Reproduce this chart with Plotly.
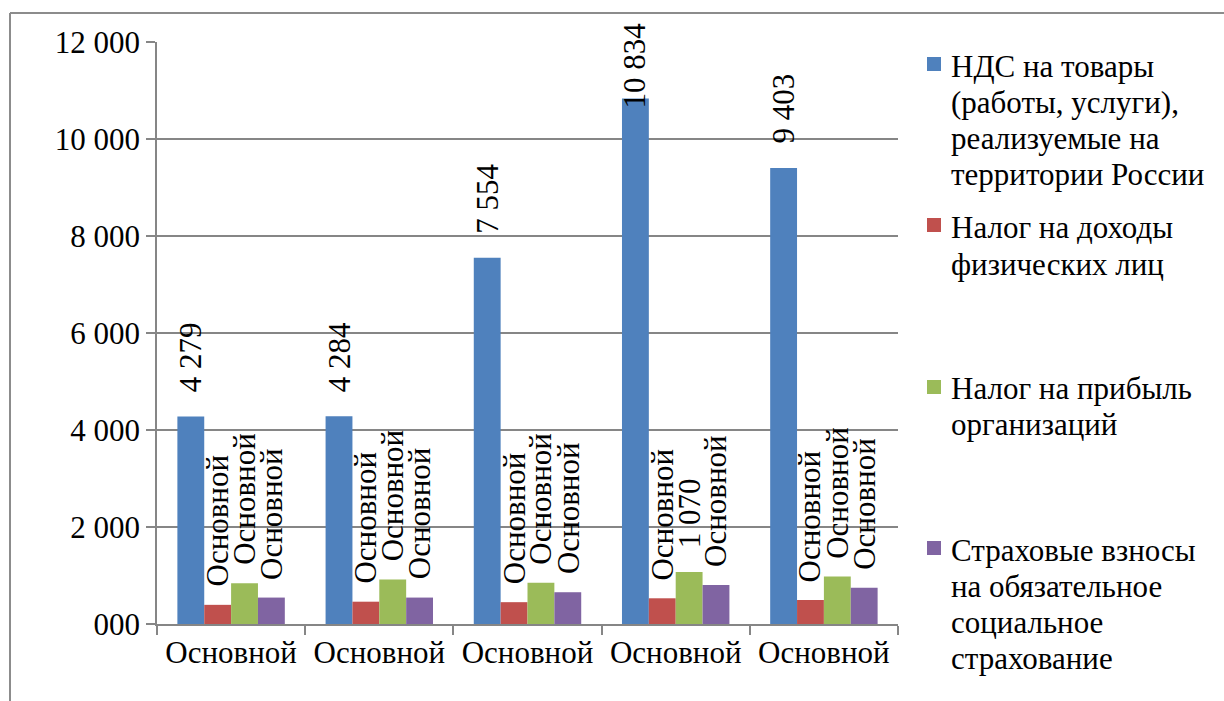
import plotly.graph_objects as go

# Tax revenue breakdown, five periods, four tax types
categories = ["Основной", "Основной", "Основной", "Основной", "Основной"]
series_names = [
    "НДС на товары (работы, услуги), реализуемые на территории России",
    "Налог на доходы физических лиц",
    "Налог на прибыль организаций",
    "Страховые взносы на обязательное социальное страхование",
]
nds = [4279, 4284, 7554, 10834, 9403]
ndfl = [395, 460, 450, 530, 495]
pribyl = [840, 915, 850, 1070, 980]
strakh = [545, 545, 655, 805, 750]

# What each data label shows: the value or the category name
nds_label_kind = ["value", "value", "value", "value", "value"]
ndfl_label_kind = ["name", "name", "name", "name", "name"]
pribyl_label_kind = ["name", "name", "name", "value", "name"]
strakh_label_kind = ["name", "name", "name", "name", "name"]

y_tick_values = [0, 2000, 4000, 6000, 8000, 10000, 12000]
y_tick_labels = ["000", "2 000", "4 000", "6 000", "8 000", "10 000", "12 000"]

# Legend text, split into lines as wrapped in the side legend
legend_lines = [
    ["НДС на товары", "(работы, услуги),", "реализуемые на", "территории России"],
    ["Налог на доходы", "физических лиц"],
    ["Налог на прибыль", "организаций"],
    ["Страховые взносы", "на обязательное", "социальное", "страхование"],
]

colors = ["#4F81BD", "#C0504D", "#9BBB59", "#8064A2"]
FONT = "'Liberation Serif', 'DejaVu Serif', serif"
FS = 31

W, H = 1224, 701
L, R, T, B = 157, 898, 42, 624  # plot area edges in pixels
Y_MAX = 12000
BARGAP = 0.275


def fmt(v):
    return f"{v:,}".replace(",", " ")


def px_x(x):
    return (x - L) / (R - L)


def px_y(y):
    return (B - y) / (B - T)


def text_len(s):
    # rough rendered length of a numeric label in pixels
    return sum(0.25 if c == " " else 0.5 for c in s) * FS


all_values = [nds, ndfl, pribyl, strakh]
all_kinds = [nds_label_kind, ndfl_label_kind, pribyl_label_kind, strakh_label_kind]
xs = list(range(len(categories)))

fig = go.Figure()
for name, vals, col in zip(series_names, all_values, colors):
    fig.add_trace(go.Bar(
        x=xs, y=vals, name=name,
        marker=dict(color=col, line=dict(width=0)),
        showlegend=False,
    ))

# Data labels, rotated, above each bar (pushed down if they would leave the chart)
n_series = len(all_values)
bar_w = (1 - BARGAP) / n_series
annotations = []
for k, (vals, kinds) in enumerate(zip(all_values, all_kinds)):
    for i, (v, kind) in enumerate(zip(vals, kinds)):
        text = fmt(v) if kind == "value" else categories[i]
        gap = 22 if kind == "value" else 16
        ann = dict(
            x=i + (k - (n_series - 1) / 2) * bar_w, y=v,
            xref="x", yref="y",
            text=text, showarrow=False, textangle=-90,
            xanchor="center", yanchor="bottom", yshift=gap,
            font=dict(family=FONT, size=FS, color="black"),
        )
        top_px = B - v / Y_MAX * (B - T)
        if kind == "value" and top_px - gap - text_len(text) < 20:
            ann.update(y=px_y(20), yref="paper", yanchor="top", yshift=0)
        annotations.append(ann)

# Side legend
legend_square_y = [64, 225, 387, 548]
legend_first_line_y = [67, 228, 388, 550]
LINE_STEP = 36
shapes = []
for k, lines in enumerate(legend_lines):
    cy = legend_square_y[k]
    shapes.append(dict(
        type="rect", xref="paper", yref="paper",
        x0=px_x(927), x1=px_x(941), y0=px_y(cy + 7), y1=px_y(cy - 7),
        fillcolor=colors[k], line=dict(width=0),
    ))
    for j, line in enumerate(lines):
        annotations.append(dict(
            x=px_x(949), y=px_y(legend_first_line_y[k] + j * LINE_STEP),
            xref="paper", yref="paper", text=line, showarrow=False,
            xanchor="left", yanchor="middle",
            font=dict(family=FONT, size=FS, color="black"),
        ))

# Chart frame
shapes.append(dict(
    type="line", xref="paper", yref="paper",
    x0=px_x(10), x1=px_x(W + 20), y0=px_y(13), y1=px_y(13),
    line=dict(color="#8c8c8c", width=2),
))
shapes.append(dict(
    type="line", xref="paper", yref="paper",
    x0=px_x(10), x1=px_x(10), y0=px_y(13), y1=px_y(H + 20),
    line=dict(color="#8c8c8c", width=2),
))

fig.update_layout(
    width=W, height=H,
    margin=dict(l=L, r=W - R, t=T, b=H - B),
    paper_bgcolor="white", plot_bgcolor="white",
    barmode="group", bargap=BARGAP, bargroupgap=0,
    font=dict(family=FONT, size=FS, color="black"),
    xaxis=dict(
        range=[-0.5, len(categories) - 0.5],
        tickvals=xs, ticktext=categories, ticks="", ticklen=0,
        showline=True, linecolor="#868686", linewidth=1.5,
        showgrid=False, zeroline=False,
        tickfont=dict(family=FONT, size=FS, color="black"),
        minor=dict(tickvals=[i - 0.5 for i in range(len(categories) + 1)],
                   ticks="outside", ticklen=9, tickcolor="#868686", tickwidth=1.5,
                   showgrid=False),
    ),
    yaxis=dict(
        range=[0, Y_MAX],
        tickvals=y_tick_values, ticktext=y_tick_labels,
        ticks="outside", ticklen=9, tickcolor="#868686", tickwidth=1.5,
        showline=True, linecolor="#868686", linewidth=1.5,
        showgrid=True, gridcolor="#868686", gridwidth=1.5,
        zeroline=False,
        tickfont=dict(family=FONT, size=FS, color="black"),
    ),
    annotations=annotations,
    shapes=shapes,
    showlegend=False,
)

fig.write_html("out.html")
